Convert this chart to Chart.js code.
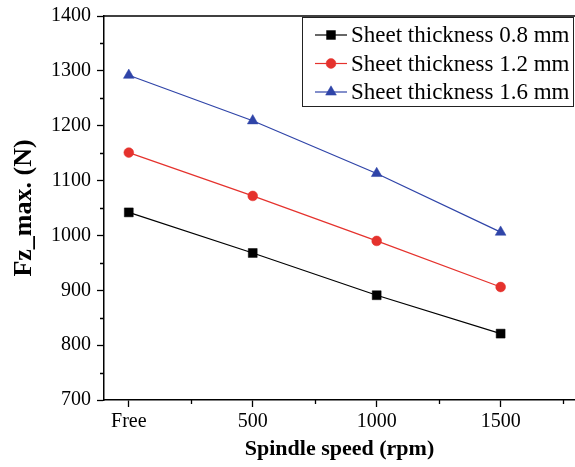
<!DOCTYPE html>
<html>
<head>
<meta charset="utf-8">
<script src="https://cdn.jsdelivr.net/npm/chart.js@4.4.1/dist/chart.umd.min.js"></script>
<style>
  html, body { margin: 0; padding: 0; background: #fff; }
  #wrap { width: 575px; height: 467px; position: relative; }
</style>
</head>
<body>
<div id="wrap"><canvas id="c"></canvas></div>
<script>
// Spindle speed settings and peak vertical force per sheet thickness
const speeds = ['Free', '500', '1000', '1500'];
const thick08 = [1042, 968, 891, 821];
const thick12 = [1151, 1072, 990, 906];
const thick16 = [1292, 1209, 1113, 1006];
const seriesNames = ['Sheet thickness 0.8 mm', 'Sheet thickness 1.2 mm', 'Sheet thickness 1.6 mm'];
const yTicks = [700, 800, 900, 1000, 1100, 1200, 1300, 1400];

const SERIF = '"Liberation Serif", "Times New Roman", serif';
const toPoints = arr => arr.map((v, i) => ({ x: i, y: v }));

function series(label, values, color, style, radius) {
  return {
    label, data: toPoints(values),
    borderColor: color, backgroundColor: color,
    borderWidth: 1.2, pointStyle: style, pointRadius: radius,
    pointBorderWidth: 0.5, pointBorderColor: color, pointHoverRadius: radius
  };
}

// Short minor ticks, top frame line and the boxed legend
const decorations = {
  id: 'decorations',
  afterDraw(chart) {
    const { ctx, chartArea: a, scales: { x, y } } = chart;
    ctx.save();
    ctx.strokeStyle = '#000';
    ctx.lineWidth = 1.3;
    ctx.beginPath();
    for (let v = 750; v < 1400; v += 100) {
      const py = Math.round(y.getPixelForValue(v)) + 0.5;
      ctx.moveTo(a.left - 4, py); ctx.lineTo(a.left, py);
    }
    for (let v = 0.5; v < 3.6; v += 1) {
      const px = Math.round(x.getPixelForValue(v)) + 0.5;
      ctx.moveTo(px, a.bottom); ctx.lineTo(px, a.bottom + 4);
    }
    ctx.stroke();
    // top frame
    ctx.lineWidth = 1.5;
    ctx.beginPath();
    ctx.moveTo(a.left, a.top); ctx.lineTo(a.right, a.top);
    ctx.stroke();

    // legend box
    const bx = 302.5, by = 17.5, bw = 271, bh = 89;
    ctx.lineWidth = 1;
    ctx.strokeStyle = '#222';
    ctx.strokeRect(bx, by, bw, bh);
    ctx.font = '23px ' + SERIF;
    ctx.textBaseline = 'middle';
    ctx.fillStyle = '#000';
    const rows = [35, 63.5, 92];
    chart.data.datasets.forEach((ds, i) => {
      const cy = rows[i];
      ctx.strokeStyle = ds.borderColor;
      ctx.lineWidth = 1.2;
      ctx.beginPath();
      ctx.moveTo(315, cy); ctx.lineTo(347, cy);
      ctx.stroke();
      ctx.fillStyle = ds.backgroundColor;
      ctx.strokeStyle = ds.borderColor;
      ctx.lineWidth = 0.5;
      Chart.helpers.drawPoint(ctx, { pointStyle: ds.pointStyle, radius: ds.pointRadius, rotation: 0, borderWidth: 0.5 }, 331, cy);
      ctx.fillStyle = '#000';
      ctx.fillText(seriesNames[i], 351, cy + 1);
    });
    ctx.restore();
  }
};

new Chart(document.getElementById('c'), {
  type: 'line',
  data: {
    datasets: [
      series(seriesNames[0], thick08, '#000000', 'rect', 6.3),
      series(seriesNames[1], thick12, '#e5322d', 'circle', 4.9),
      series(seriesNames[2], thick16, '#2f44a8', 'triangle', 6.2)
    ]
  },
  options: {
    responsive: true,
    maintainAspectRatio: false,
    animation: false,
    layout: { autoPadding: false, padding: { top: 16, right: 0, left: 0, bottom: 0 } },
    plugins: { legend: { display: false }, tooltip: { enabled: false } },
    scales: {
      x: {
        type: 'linear', min: -0.2, max: 3.6,
        afterBuildTicks: s => { s.ticks = speeds.map((_, i) => ({ value: i })); },
        afterFit: s => { s.height = 67; s.paddingLeft = 0; s.paddingRight = 0; },
        ticks: {
          callback: v => speeds[v] ?? '',
          color: '#000', font: { family: SERIF, size: 20 }, padding: 3, maxRotation: 0
        },
        grid: { drawOnChartArea: false, drawTicks: true, tickLength: 7, tickColor: '#000', tickWidth: 1.3 },
        border: { color: '#000', width: 1.5 },
        title: {
          display: true, text: 'Spindle speed (rpm)', color: '#000',
          font: { family: SERIF, size: 22, weight: 'bold' }, padding: { top: 0, bottom: 4 }
        }
      },
      y: {
        min: 700, max: 1400,
        afterBuildTicks: s => { s.ticks = yTicks.map(v => ({ value: v })); },
        afterFit: s => { s.width = 104; s.paddingTop = 0; s.paddingBottom = 0; },
        ticks: { callback: v => String(v), color: '#000', font: { family: SERIF, size: 20 }, padding: 6 },
        grid: { drawOnChartArea: false, drawTicks: true, tickLength: 7, tickColor: '#000', tickWidth: 1.3 },
        border: { color: '#000', width: 1.5 },
        title: {
          display: true, text: 'Fz_max. (N)', color: '#000',
          font: { family: SERIF, size: 26, weight: 'bold' }, padding: { top: 9, bottom: 0 }
        }
      }
    }
  },
  plugins: [decorations]
});
</script>
</body>
</html>
